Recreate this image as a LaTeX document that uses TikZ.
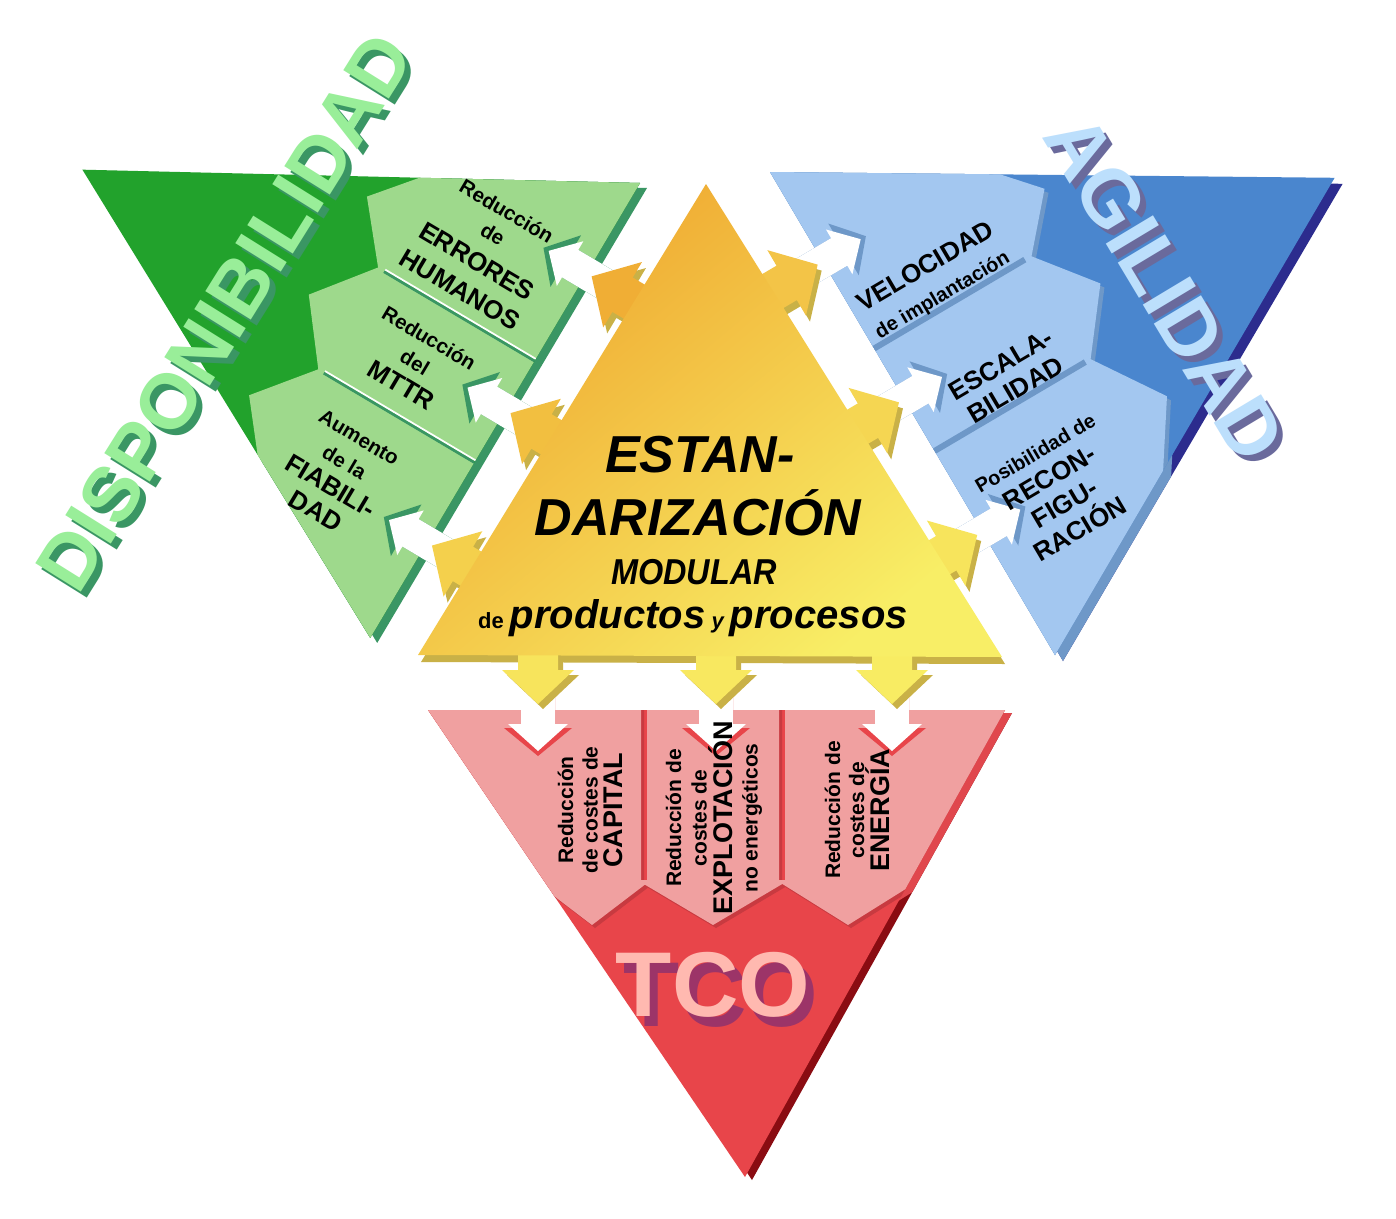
\documentclass[tikz,border=0pt]{standalone}
\usepackage{fontspec}
\setmainfont{Liberation Sans}
\definecolor{gDark}{HTML}{22A22C}
\definecolor{gLight}{HTML}{9ED98C}
\definecolor{gShadow}{HTML}{3A9664}
\definecolor{gHeadSh}{HTML}{23813A}
\definecolor{gText}{HTML}{99EE99}
\definecolor{bDark}{HTML}{4A86CE}
\definecolor{bLight}{HTML}{A3C7F0}
\definecolor{bNavy}{HTML}{2C2C8E}
\definecolor{bSteel}{HTML}{6E98C8}
\definecolor{bText}{HTML}{BCDFFC}
\definecolor{bTextSh}{HTML}{6A6A9C}
\definecolor{rDark}{HTML}{E8454A}
\definecolor{rLight}{HTML}{F0A0A0}
\definecolor{rMaroon}{HTML}{8A0C12}
\definecolor{rEdge}{HTML}{E0474D}
\definecolor{rHeadSh}{HTML}{C83A40}
\definecolor{rText}{HTML}{FFB9B0}
\definecolor{rTextSh}{HTML}{9C3468}
\definecolor{yOrange}{HTML}{EFA52E}
\definecolor{yYellow}{HTML}{F8EE66}
\definecolor{yOlive}{HTML}{C9B147}
\definecolor{yA}{HTML}{F0AE35}
\definecolor{yB}{HTML}{F2BF40}
\definecolor{yC}{HTML}{F4D04C}
\definecolor{yD}{HTML}{F3C447}
\definecolor{yE}{HTML}{F5D652}
\definecolor{yF}{HTML}{F7E45C}
\definecolor{yG}{HTML}{F8E860}
\definecolor{yH}{HTML}{F8EC63}
% ribbon arrow: style, s0, s1, head centre, head half width, shaft length, tip
\newcommand{\rib}[7]{\fill[#1] (#2,-30) -- (#2,#6) -- ({#4-#5},#6) -- (#4,#7) -- ({#4+#5},#6) -- (#3,#6) -- (#3,-30) -- cycle;}
% arrow/notch: style, centre, shaft half, head half, head base, tip, tail
\newcommand{\arrshape}[7]{\fill[#1] ({#2-#3},#7) -- ({#2-#3},#5) -- ({#2-#4},#5) -- (#2,#6) -- ({#2+#4},#5) -- ({#2+#3},#5) -- ({#2+#3},#7) -- cycle;}
\newcommand{\BIG}[1]{{\fontsize{26}{26}\selectfont #1}}
\newcommand{\BIGR}[1]{{\fontsize{27}{25}\selectfont #1}}
\tikzset{
  lbl/.style={text=black, align=center, inner sep=0pt},
  big/.style={inner sep=0pt}
}
\begin{document}
\begin{tikzpicture}[x=1pt,y=-1pt]
\useasboundingbox (0,0) rectangle (1396,1218);
\fill[white] (0,0) rectangle (1396,1218);

% ================= GREEN =================
\begin{scope}[shift={(640pt,-183pt)}, x={(-0.510pt,-0.860pt)}, y={(-0.860pt,0.510pt)}]
  \begin{scope}[xshift=7pt, yshift=-5pt]
    \fill[gShadow] (0,0) -- (529,0) -- (273,486.5) -- cycle;
  \end{scope}
  \fill[gDark] (0,0) -- (529,0) -- (273,486.5) -- cycle;
  \begin{scope}
    \clip (0,0) -- (529,0) -- (273,486.5) -- cycle;
    \begin{scope}[xshift=4pt, yshift=-4pt]
      \rib{gHeadSh}{-80}{204}{151}{64}{175}{228}
      \rib{gHeadSh}{208}{322}{265}{68}{175}{228}
      \rib{gHeadSh}{326}{620}{382}{66}{175}{228}
    \end{scope}
    \rib{gLight}{-80}{204}{151}{64}{175}{228}
    \rib{gLight}{208}{322}{265}{68}{175}{228}
    \rib{gLight}{326}{620}{382}{66}{175}{228}
    \draw[gShadow, line width=2.5pt] (207,0) -- (207,175) (325,0) -- (325,175);
    \draw[white, line width=1.8pt] (204.5,0) -- (204.5,175) (322.5,0) -- (322.5,175);
  \end{scope}
  \arrshape{gShadow}{105}{16}{30}{24}{50}{-50}
  \arrshape{white}{105}{16}{26}{19}{44}{-50}
  \arrshape{gShadow}{264}{16}{30}{24}{50}{-50}
  \arrshape{white}{264}{16}{26}{19}{44}{-50}
  \arrshape{gShadow}{418}{16}{30}{24}{50}{-50}
  \arrshape{white}{418}{16}{26}{19}{44}{-50}
\end{scope}

% ================= BLUE =================
\begin{scope}[shift={(770pt,-172pt)}, x={(0.508pt,-0.861pt)}, y={(0.861pt,0.508pt)}]
  \begin{scope}[xshift=8pt, yshift=-6pt]
    \fill[bNavy] (0,0) -- (561,0) -- (292,483.5) -- cycle;
    \clip (0,0) -- (561,0) -- (292,483.5) -- cycle;
    \rib{bSteel}{-80}{203}{154}{60}{175}{228}
    \rib{bSteel}{207}{322}{264}{68}{175}{228}
    \rib{bSteel}{326}{650}{395}{80}{175}{228}
  \end{scope}
  \fill[bDark] (0,0) -- (561,0) -- (292,483.5) -- cycle;
  \begin{scope}
    \clip (0,0) -- (561,0) -- (292,483.5) -- cycle;
    \begin{scope}[xshift=4pt, yshift=-4pt]
      \rib{bSteel}{-80}{203}{154}{60}{175}{228}
      \rib{bSteel}{207}{322}{264}{68}{175}{228}
      \rib{bSteel}{326}{650}{395}{80}{175}{228}
    \end{scope}
    \rib{bLight}{-80}{203}{154}{60}{175}{228}
    \rib{bLight}{207}{322}{264}{68}{175}{228}
    \rib{bLight}{326}{650}{395}{80}{175}{228}
    \draw[bSteel, line width=6pt] (205,0) -- (205,175) (324,0) -- (324,175);
  \end{scope}
  \arrshape{bSteel}{104}{16}{30}{24}{50}{-50}
  \arrshape{white}{104}{16}{26}{19}{44}{-50}
  \arrshape{bSteel}{264}{16}{30}{24}{50}{-50}
  \arrshape{white}{264}{16}{26}{19}{44}{-50}
  \arrshape{bSteel}{418}{16}{30}{24}{50}{-50}
  \arrshape{white}{418}{16}{26}{19}{44}{-50}
\end{scope}

% ================= RED =================
\begin{scope}[shift={(428pt,-710pt)}, x={(1pt,0pt)}, y={(0pt,-1pt)}]
  \begin{scope}[xshift=7pt, yshift=-3pt]
    \fill[rMaroon] (0,0) -- (577,0) -- (317,467) -- cycle;
    \clip (0,0) -- (577,0) -- (317,467) -- cycle;
    \rib{rEdge}{-80}{213}{164}{59}{170}{215}
    \rib{rEdge}{219}{351}{285}{76}{170}{215}
    \rib{rEdge}{357}{700}{420}{72}{170}{215}
  \end{scope}
  \fill[rDark] (0,0) -- (577,0) -- (317,467) -- cycle;
  \begin{scope}
    \clip (0,0) -- (577,0) -- (317,467) -- cycle;
    \begin{scope}[xshift=3pt, yshift=-3pt]
      \rib{rHeadSh}{-80}{213}{164}{59}{170}{215}
      \rib{rHeadSh}{219}{351}{285}{76}{170}{215}
      \rib{rHeadSh}{357}{700}{420}{72}{170}{215}
    \end{scope}
    \rib{rLight}{-80}{213}{164}{59}{170}{215}
    \rib{rLight}{219}{351}{285}{76}{170}{215}
    \rib{rLight}{357}{700}{420}{72}{170}{215}
  \end{scope}
  \arrshape{rDark}{110}{17}{34}{18}{46}{-60}
  \arrshape{white}{110}{17}{30}{14}{41}{-60}
  \arrshape{rDark}{288}{17}{34}{18}{46}{-60}
  \arrshape{white}{288}{17}{30}{14}{41}{-60}
  \arrshape{rDark}{464}{17}{34}{18}{46}{-60}
  \arrshape{white}{464}{17}{30}{14}{41}{-60}
\end{scope}

% ================= YELLOW =================
\begin{scope}[xshift=3pt, yshift=-7pt]
  \fill[yOlive] (706,184) -- (418,655) -- (1002,657) -- cycle;
\end{scope}
% arrows toward green
\begin{scope}[shift={(640pt,-183pt)}, x={(-0.510pt,-0.860pt)}, y={(-0.860pt,0.510pt)}]
  \begin{scope}[xshift=4pt, yshift=-6pt]
    \arrshape{yOlive}{105}{20}{38}{-42}{-6}{-72}
    \arrshape{yOlive}{264}{20}{38}{-42}{-6}{-72}
    \arrshape{yOlive}{418}{20}{38}{-42}{-6}{-72}
  \end{scope}
  \arrshape{yA}{105}{20}{38}{-42}{-6}{-72}
  \arrshape{yB}{264}{20}{38}{-42}{-6}{-72}
  \arrshape{yC}{418}{20}{38}{-42}{-6}{-72}
\end{scope}
% arrows toward blue
\begin{scope}[shift={(770pt,-172pt)}, x={(0.508pt,-0.861pt)}, y={(0.861pt,0.508pt)}]
  \begin{scope}[xshift=4pt, yshift=-6pt]
    \arrshape{yOlive}{104}{20}{38}{-42}{-6}{-72}
    \arrshape{yOlive}{264}{20}{38}{-42}{-6}{-72}
    \arrshape{yOlive}{418}{20}{38}{-42}{-6}{-72}
  \end{scope}
  \arrshape{yD}{104}{20}{38}{-42}{-6}{-72}
  \arrshape{yE}{264}{20}{38}{-42}{-6}{-72}
  \arrshape{yF}{418}{20}{38}{-42}{-6}{-72}
\end{scope}
% arrows toward red
\begin{scope}[shift={(428pt,-710pt)}, x={(1pt,0pt)}, y={(0pt,-1pt)}]
  \begin{scope}[xshift=5pt, yshift=-5pt]
    \arrshape{yOlive}{110}{20}{36}{-40}{-6}{-66}
    \arrshape{yOlive}{288}{20}{36}{-40}{-6}{-66}
    \arrshape{yOlive}{464}{20}{36}{-40}{-6}{-66}
  \end{scope}
  \arrshape{yF}{110}{20}{36}{-40}{-6}{-66}
  \arrshape{yG}{288}{20}{36}{-40}{-6}{-66}
  \arrshape{yH}{464}{20}{36}{-40}{-6}{-66}
\end{scope}
\shade[top color=yOrange, bottom color=yYellow, shading angle=40] (706,184) -- (418,655) -- (1002,657) -- cycle;

% ================= TEXTS =================
\node[lbl, rotate=-30.7, font=\bfseries\fontsize{20.5}{33}\selectfont] (g1) at (483,251) {Reducción\\[-6pt]de\\\BIG{ERRORES}\\\BIG{HUMANOS}};
\node[lbl, rotate=-30.7, font=\bfseries\fontsize{20.5}{28}\selectfont] (g2) at (415,362) {Reducción\\del\\\BIG{MTTR}};
\node[lbl, rotate=-30.7, font=\bfseries\fontsize{20.5}{29}\selectfont] (g3) at (337,475) {Aumento\\de la\\\BIG{FIABILI-}\\\BIG{DAD}};

\node[lbl, rotate=30.5, font=\bfseries\fontsize{20}{31}\selectfont] (b1) at (934,281) {\BIG{VELOCIDAD}\\de implantación};
\node[lbl, rotate=30.5, font=\bfseries\fontsize{26}{29}\selectfont] (b2) at (1008,377) {ESCALA-\\BILIDAD};
\node[lbl, rotate=30.5, font=\bfseries\fontsize{20}{30}\selectfont] (b3) at (1058,492) {Posibilidad de\\\BIG{RECON-}\\\BIG{FIGU-}\\\BIG{RACIÓN}};

\node[lbl, rotate=90, font=\bfseries\fontsize{21}{24.5}\selectfont] (r1) at (590,810) {Reducción\\de costes de\\\BIGR{CAPITAL}};
\node[lbl, rotate=90, font=\bfseries\fontsize{21}{25.5}\selectfont] (r2) at (714,818) {Reducción de\\costes de\\\BIGR{EXPLOTACIÓN}\\no energéticos};
\node[lbl, rotate=90, font=\bfseries\fontsize{21}{24}\selectfont] (r3) at (857,810) {Reducción de\\costes de\\\BIGR{ENERGÍA}};

\node[lbl, font=\bfseries\itshape\fontsize{52}{56}\selectfont] (c1) at (700,455) {ESTAN-};
\node[lbl, font=\bfseries\itshape\fontsize{52}{56}\selectfont] (c2) at (698,513) {DARIZACIÓN};
\node[lbl, font=\bfseries\itshape\fontsize{36}{40}\selectfont, xscale=0.9] (c3) at (694,572) {MODULAR};
\node[lbl, anchor=base, font=\bfseries] (c4) at (693,628) {{\fontsize{22}{24}\selectfont de }{\itshape\fontsize{40}{44}\selectfont productos}{\itshape\fontsize{22}{24}\selectfont\ y }{\itshape\fontsize{40}{44}\selectfont procesos}};

\node[big, font=\bfseries\fontsize{78}{80}\selectfont, text=gShadow, rotate=58] (dsh) at (231,318) {DISPONIBILIDAD};
\node[big, font=\bfseries\fontsize{78}{80}\selectfont, text=gText, rotate=58] (disp) at (225,312) {DISPONIBILIDAD};
\node[big, font=\bfseries\fontsize{80}{82}\selectfont, text=bTextSh, rotate=-59] (ash) at (1171,294) {AGILIDAD};
\node[big, font=\bfseries\fontsize{80}{82}\selectfont, text=bText, rotate=-59] (agil) at (1165,288) {AGILIDAD};
\node[big, font=\bfseries\fontsize{92}{94}\selectfont, text=rTextSh] (tsh) at (721,995) {TCO};
\node[big, font=\bfseries\fontsize{92}{94}\selectfont, text=rText] (tco) at (713,985) {TCO};
\end{tikzpicture}
\end{document}
